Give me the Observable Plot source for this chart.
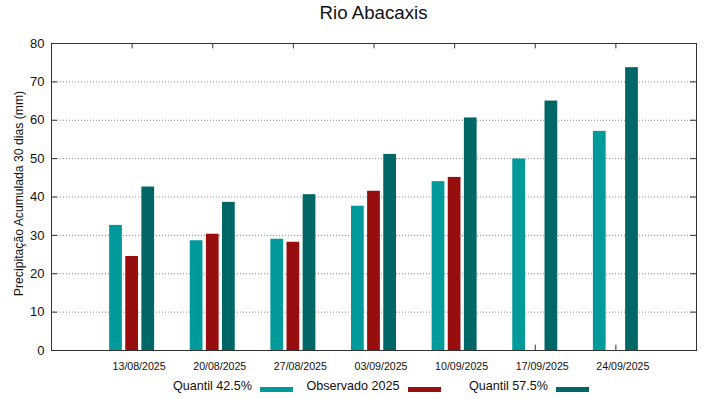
<!DOCTYPE html>
<html>
<head>
<meta charset="utf-8">
<script src="https://cdn.jsdelivr.net/npm/d3@7"></script>
<script src="https://cdn.jsdelivr.net/npm/@observablehq/plot@0.6"></script>
<style>
  html, body { margin: 0; padding: 0; background: #fff; }
  #wrap { position: relative; width: 719px; height: 399px; font-family: "Liberation Sans", Arial, sans-serif; color: #111; }
  #title { position: absolute; left: 0; top: 4.2px; width: 747px; text-align: center; font-size: 18.7px; line-height: 1; }
  #chart { position: absolute; left: 0; top: 34px; }
  .leg-text { position: absolute; font-size: 12.6px; line-height: 1; top: 380.3px; white-space: nowrap; }
  .leg-sw { position: absolute; top: 386.5px; height: 5px; width: 33px; }
</style>
</head>
<body>
<div id="wrap">
  <div id="title">Rio Abacaxis</div>
  <div id="chart"></div>
</div>
<script>
const dates = ["13/08/2025", "20/08/2025", "27/08/2025", "03/09/2025", "10/09/2025", "17/09/2025", "24/09/2025"];
const quantil425 = [32.6, 28.6, 29.0, 37.6, 44.0, 49.9, 57.1];
const observado2025 = [24.5, 30.3, 28.2, 41.5, 45.1, null, null];
const quantil575 = [42.6, 38.6, 40.6, 51.1, 60.6, 65.0, 73.7];
const seriesNames = ["Quantil 42.5%", "Observado 2025", "Quantil 57.5%"];
const seriesColors = ["#009a9a", "#980d0d", "#006766"];
const yTicks = [0, 10, 20, 30, 40, 50, 60, 70, 80];
const yLabel = "Precipitação Acumulada 30 dias (mm)";

const seriesValues = [quantil425, observado2025, quantil575];
const offsets = [-0.2, 0, 0.2];
const halfW = 0.079;
const rows = [];
dates.forEach((d, i) => {
  seriesValues.forEach((vals, s) => {
    if (vals[i] != null) {
      const c = i + 1 + offsets[s];
      rows.push({date: d, series: seriesNames[s], value: vals[i], x1: c - halfW, x2: c + halfW, color: seriesColors[s]});
    }
  });
});
const xPos = dates.map((d, i) => i + 1);

const plot = Plot.plot({
  width: 719,
  height: 340,
  marginTop: 9,
  marginBottom: 24,
  marginLeft: 51,
  marginRight: 23,
  style: {fontFamily: "Liberation Sans, Arial, sans-serif", color: "#111", background: "#fff"},
  x: {domain: [0, 8], axis: null},
  y: {domain: [0, 80], axis: null},
  marks: [
    Plot.ruleY(yTicks.filter(t => t > 0 && t < 80), {stroke: "#8a8a8a", strokeDasharray: "1,2", strokeWidth: 1}),
    Plot.ruleY(yTicks, {x1: 0, x2: 0.075, stroke: "#333"}),
    Plot.ruleY(yTicks, {x1: 7.925, x2: 8, stroke: "#333"}),
    Plot.ruleX(xPos, {y1: 80, y2: 78.6, stroke: "#333"}),
    Plot.ruleX(xPos, {y1: 0, y2: 1.4, stroke: "#333"}),
    Plot.rectY(rows, {x1: "x1", x2: "x2", y1: 0, y2: "value", fill: "color"}),
    Plot.frame({stroke: "#333", strokeWidth: 1}),
    Plot.axisY({ticks: yTicks, tickSize: 0, tickPadding: 7, fontSize: 13, label: null}),
    Plot.axisX({ticks: xPos, tickSize: 0, tickPadding: 12, fontSize: 10.6, dx: 7, label: null,
      tickFormat: (d) => dates[d - 1]}),
    Plot.text([yLabel], {frameAnchor: "left", text: d => d, rotate: -90, textAnchor: "middle", lineAnchor: "middle",
      dx: -32.5, dy: -3.5, fontSize: 12.2, fill: "#111"})
  ]
});
document.getElementById("chart").appendChild(plot);

// legend
const wrap = document.getElementById("wrap");
const textRight = [252, 399.5, 548];
const swLeft = [260, 408, 556];
seriesNames.forEach((name, i) => {
  const t = document.createElement("div");
  t.className = "leg-text";
  t.textContent = name;
  t.style.right = (719 - textRight[i]) + "px";
  wrap.appendChild(t);
  const s = document.createElement("div");
  s.className = "leg-sw";
  s.style.left = swLeft[i] + "px";
  s.style.background = seriesColors[i];
  wrap.appendChild(s);
});
</script>
</body>
</html>
